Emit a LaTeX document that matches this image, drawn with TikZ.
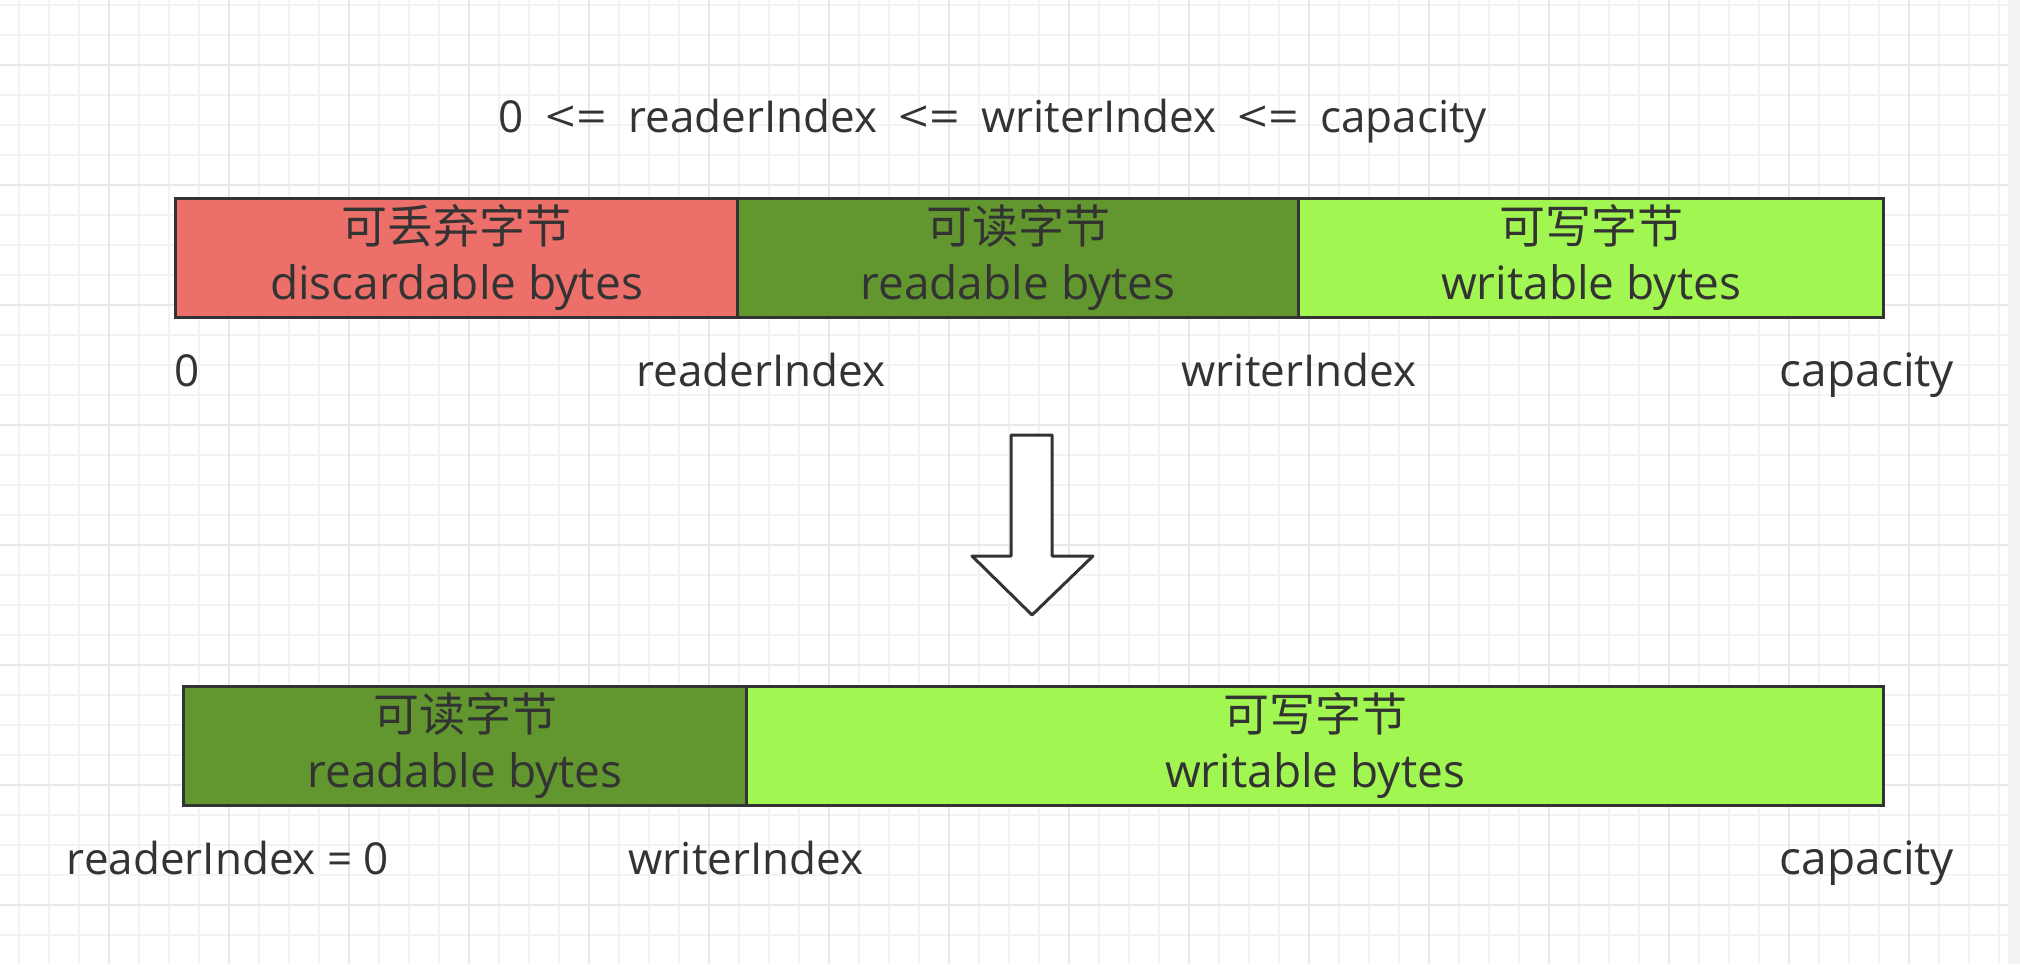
\documentclass[tikz,border=0pt]{standalone}
\usepackage{fontspec}
\usepackage{graphicx}
\setmainfont{Open Sans}
\newfontfamily\cjk{Noto Sans CJK SC}
\definecolor{textc}{HTML}{333333}
\definecolor{linec}{HTML}{333333}
\definecolor{redfill}{HTML}{EC6F6A}
\definecolor{darkgreen}{HTML}{62962E}
\definecolor{lightgreen}{HTML}{A2F651}
\definecolor{gridminor}{HTML}{F3F3F3}
\definecolor{gridmajor}{HTML}{E8E8E8}
\definecolor{edgestrip}{HTML}{F2F2F2}
\newcommand{\wsp}{\ \hspace{10pt}}
\newcommand{\myle}{\scalebox{1.22}[1]{<=}}
\begin{document}
\begin{tikzpicture}[x=1pt,y=-1pt,
  minorline/.style={draw=gridminor, line width=2pt},
  majorline/.style={draw=gridmajor, line width=2pt},
  seg/.style={draw=linec, line width=3pt, minimum height=119pt, inner sep=0pt,
    anchor=north west, font=\fontsize{46}{56}\selectfont, text=textc, align=center},
  lbl/.style={font=\fontsize{44}{53}\selectfont, text=textc, anchor=base, inner sep=0pt},
  bigarrow/.style={draw=linec, fill=white, line width=3pt, line join=round}]
\useasboundingbox (0,0) rectangle (2020,964);
\fill[white] (0,0) rectangle (2020,964);
% grid
\foreach \x in {19,49,...,1999} \draw[minorline] (\x,0) -- (\x,964);
\foreach \y in {5,35,...,935} \draw[minorline] (0,\y) -- (2008,\y);
\foreach \x in {109,229,...,1909} \draw[majorline] (\x,0) -- (\x,964);
\foreach \y in {65,185,...,905} \draw[majorline] (0,\y) -- (2008,\y);
\fill[edgestrip] (2008,0) rectangle (2020,964);
% title
\node[lbl] (title) at (993,132) {0\wsp\myle\wsp readerIndex\wsp\myle\wsp writerIndex\wsp\myle\wsp capacity};
% top buffer
\node[seg, fill=redfill, minimum width=562pt] (disc) at (174,197) {{\cjk 可丢弃字节}\\discardable bytes};
\node[seg, fill=darkgreen, minimum width=561pt] (read) at (736,197) {{\cjk 可读字节}\\readable bytes};
\node[seg, fill=lightgreen, minimum width=585pt] (write) at (1297,197) {{\cjk 可写字节}\\writable bytes};
\node[lbl, anchor=base west] (l0) at (174,386) {0};
\node[lbl] (lri) at (761,386) {readerIndex};
\node[lbl] (lwi) at (1299,386) {writerIndex};
\node[lbl, font=\fontsize{46}{53}\selectfont] (lcap) at (1867,386) {capacity};
% arrow
\draw[bigarrow] (1011,435) -- (1052,435) -- (1052,556) -- (1093,556) -- (1032,615) -- (972,556) -- (1011,556) -- cycle;
% bottom buffer
\node[seg, fill=darkgreen, minimum width=563pt] (read2) at (182,685) {{\cjk 可读字节}\\readable bytes};
\node[seg, fill=lightgreen, minimum width=1137pt] (write2) at (745,685) {{\cjk 可写字节}\\writable bytes};
\node[lbl] (lri2) at (228,874) {readerIndex = 0};
\node[lbl] (lwi2) at (746,874) {writerIndex};
\node[lbl, font=\fontsize{46}{53}\selectfont] (lcap2) at (1867,874) {capacity};
\end{tikzpicture}
\end{document}
